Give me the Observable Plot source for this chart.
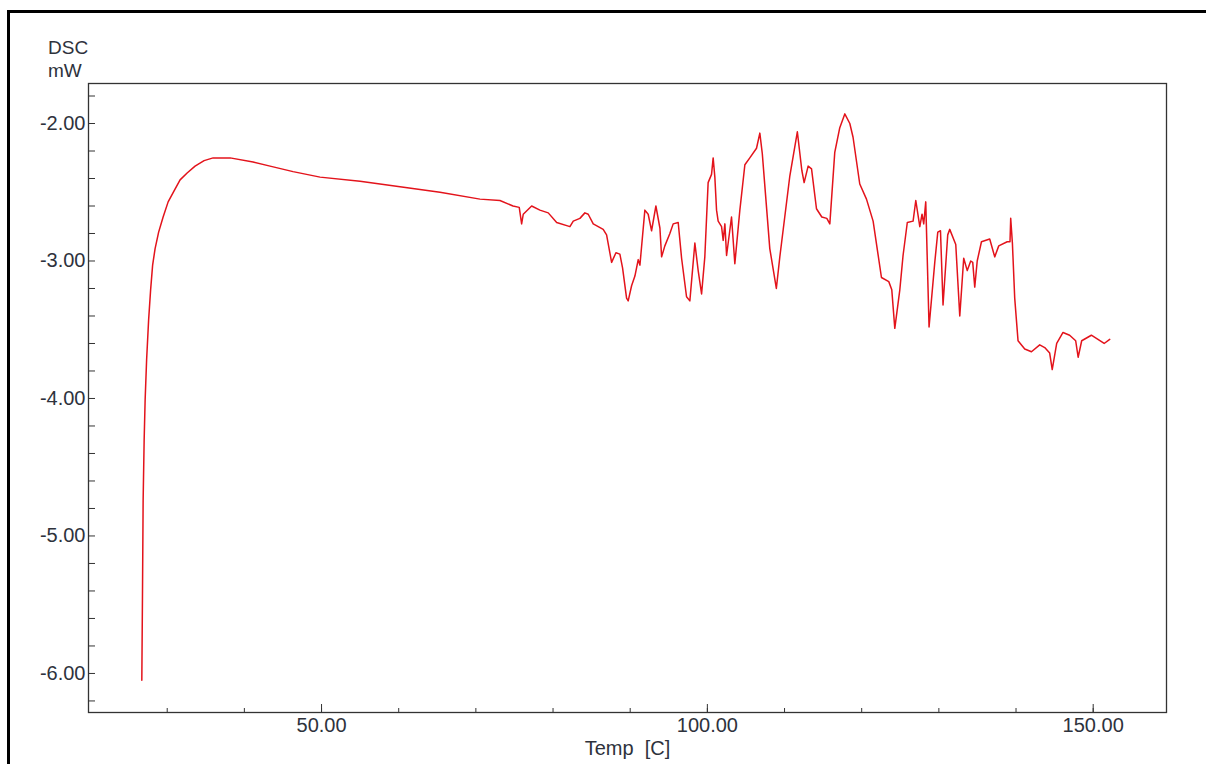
<!DOCTYPE html>
<html>
<head>
<meta charset="utf-8">
<script src="https://cdn.jsdelivr.net/npm/d3@7"></script>
<script src="https://cdn.jsdelivr.net/npm/@observablehq/plot@0.6"></script>
<style>
  body { margin: 0; background: #fff; }
  #wrap { position: relative; width: 1206px; height: 764px; overflow: hidden; font-family: "Liberation Sans", Arial, sans-serif; }
  #wrap svg { position: absolute; left: 0; top: 0; }
  #border { position: absolute; left: 7px; top: 10px; right: -10px; bottom: -10px; border-left: 3px solid #000; border-top: 3px solid #000; z-index: 2; pointer-events: none; }
  #ylab { position: absolute; left: 48px; top: 36px; font-size: 19px; line-height: 23px; color: #2e323c; z-index: 3; }
</style>
</head>
<body>
<div id="wrap">
  <div id="border"></div>
  <div id="ylab">DSC<br>mW</div>
</div>
<script>
// Temperature [C]
const temperature = [
  26.71, 26.79, 26.88, 27.01, 27.14, 27.33, 27.59, 27.85, 28.11, 28.43,
  28.89, 29.47, 30.12, 30.89, 31.67, 32.58, 33.61, 34.78, 35.95, 36.85,
  38.15, 41.13, 43.33, 46.31, 49.81, 54.99, 60.17,
  65.35, 70.53, 73.12, 74.81, 75.62, 75.93, 76.14, 77.23, 78.30, 79.38,
  80.47, 82.19, 82.62, 83.48, 84.13, 84.56, 85.21, 86.50, 86.94, 87.59,
  88.15, 88.66, 89.01, 89.53, 89.74, 90.18, 90.61, 91.04, 91.26, 91.90,
  92.33, 92.77, 93.33, 93.85, 94.07, 94.49, 95.14, 95.57, 96.22, 96.66,
  97.30, 97.73, 98.38, 98.81, 99.25, 99.67, 100.10, 100.54, 100.75, 100.97,
  101.19, 101.40, 101.84, 102.05, 102.27, 102.49, 103.13, 103.56, 104.21, 104.86,
  105.50, 106.37, 106.80, 107.12, 108.09, 108.94, 109.39, 110.69, 111.66, 112.24,
  112.54, 113.06, 113.50, 114.14, 114.83, 115.48, 115.87, 116.51, 117.16, 117.81,
  118.46, 118.88, 119.75, 120.62, 121.48, 122.56, 123.51, 123.90, 124.29, 124.94,
  125.36, 125.91, 126.66, 127.01, 127.53, 127.82, 128.04, 128.30, 128.73, 129.47,
  129.86, 130.21, 130.54, 131.15, 131.41, 132.19, 132.71, 133.22, 133.68, 134.13,
  134.39, 134.65, 134.97, 135.52, 136.59, 137.24, 137.76, 138.86, 139.22, 139.31,
  139.53, 139.83, 140.26, 141.13, 142.00, 143.07, 143.72, 144.36, 144.69, 145.27,
  146.09, 146.95, 147.73, 148.05, 148.51, 149.76, 150.62, 151.42, 152.14
];
// DSC [mW]
const dsc = [
  -6.05, -5.47, -4.74, -4.31, -4.01, -3.72, -3.43, -3.21, -3.03, -2.91,
  -2.79, -2.68, -2.57, -2.49, -2.41, -2.36, -2.31, -2.27, -2.25, -2.25,
  -2.25, -2.28, -2.31, -2.35, -2.39, -2.42, -2.46,
  -2.50, -2.55, -2.56, -2.60, -2.61, -2.73, -2.66, -2.60, -2.63, -2.65,
  -2.72, -2.75, -2.71, -2.69, -2.65, -2.66, -2.73, -2.77, -2.81, -3.01,
  -2.94, -2.95, -3.05, -3.27, -3.29, -3.18, -3.11, -2.99, -3.03, -2.63,
  -2.66, -2.78, -2.60, -2.76, -2.97, -2.89, -2.80, -2.73, -2.72, -2.98,
  -3.26, -3.29, -2.87, -3.07, -3.24, -2.97, -2.43, -2.37, -2.25, -2.39,
  -2.63, -2.71, -2.75, -2.85, -2.73, -2.96, -2.68, -3.02, -2.63, -2.30,
  -2.25, -2.18, -2.07, -2.22, -2.91, -3.20, -2.97, -2.38, -2.06, -2.34,
  -2.43, -2.31, -2.33, -2.62, -2.68, -2.69, -2.73, -2.21, -2.03, -1.93,
  -2.00, -2.10, -2.44, -2.55, -2.71, -3.12, -3.15, -3.21, -3.49, -3.21,
  -2.96, -2.72, -2.71, -2.56, -2.75, -2.66, -2.73, -2.57, -3.48, -3.01,
  -2.79, -2.78, -3.32, -2.81, -2.77, -2.88, -3.40, -2.98, -3.07, -3.00,
  -3.01, -3.19, -3.00, -2.86, -2.84, -2.97, -2.89, -2.86, -2.86, -2.69,
  -2.87, -3.27, -3.58, -3.64, -3.66, -3.61, -3.63, -3.67, -3.79, -3.60,
  -3.52, -3.54, -3.58, -3.70, -3.58, -3.54, -3.57, -3.60, -3.57
];
// Axis ticks
const xMinorTicks = [30, 40, 50, 60, 70, 80, 90, 100, 110, 120, 130, 140, 150];
const xMajorTicks = [50, 100, 150];
const yMinorTicks = [-6.2, -6.0, -5.8, -5.6, -5.4, -5.2, -5.0, -4.8, -4.6, -4.4, -4.2, -4.0,
                     -3.8, -3.6, -3.4, -3.2, -3.0, -2.8, -2.6, -2.4, -2.2, -2.0, -1.8];
const yMajorTicks = [-6, -5, -4, -3, -2];
const xTitle = "Temp\u00a0 [C]";

const data = temperature.map((t, i) => ({t, v: dsc[i]}));
const axisColor = "#2e323c";

const chart = Plot.plot({
  width: 1206,
  height: 764,
  marginLeft: 88,
  marginRight: 40,
  marginTop: 83,
  marginBottom: 52,
  style: {fontFamily: "'Liberation Sans', Arial, sans-serif", fontSize: "20px", color: axisColor, background: "none"},
  x: {domain: [19.8, 159.5]},
  y: {domain: [-6.284, -1.709]},
  marks: [
    Plot.frame({stroke: "#333", strokeWidth: 1.3}),
    Plot.axisX(xMinorTicks, {tickSize: 4, dy: -4, text: null, label: null, stroke: "#333"}),
    Plot.axisX(xMajorTicks, {tickSize: 8, dy: -8, text: null, label: null, stroke: "#333"}),
    Plot.axisX(xMajorTicks, {tickSize: 0, tickPadding: 5, tickFormat: d => d.toFixed(2), label: null, fill: axisColor}),
    Plot.axisY(yMinorTicks, {tickSize: 7, dx: 7, text: null, label: null, stroke: "#333"}),
    Plot.axisY(yMajorTicks, {tickSize: 0, tickPadding: 3, tickFormat: d => d.toFixed(2), label: null, fill: axisColor}),
    Plot.text([xTitle], {frameAnchor: "bottom", lineAnchor: "top", dy: 28, text: d => d, fill: axisColor, fontSize: 20}),
    Plot.line(data, {x: "t", y: "v", stroke: "#e3131b", strokeWidth: 1.5, strokeLinejoin: "round"})
  ]
});
document.getElementById("wrap").appendChild(chart);
</script>
</body>
</html>
